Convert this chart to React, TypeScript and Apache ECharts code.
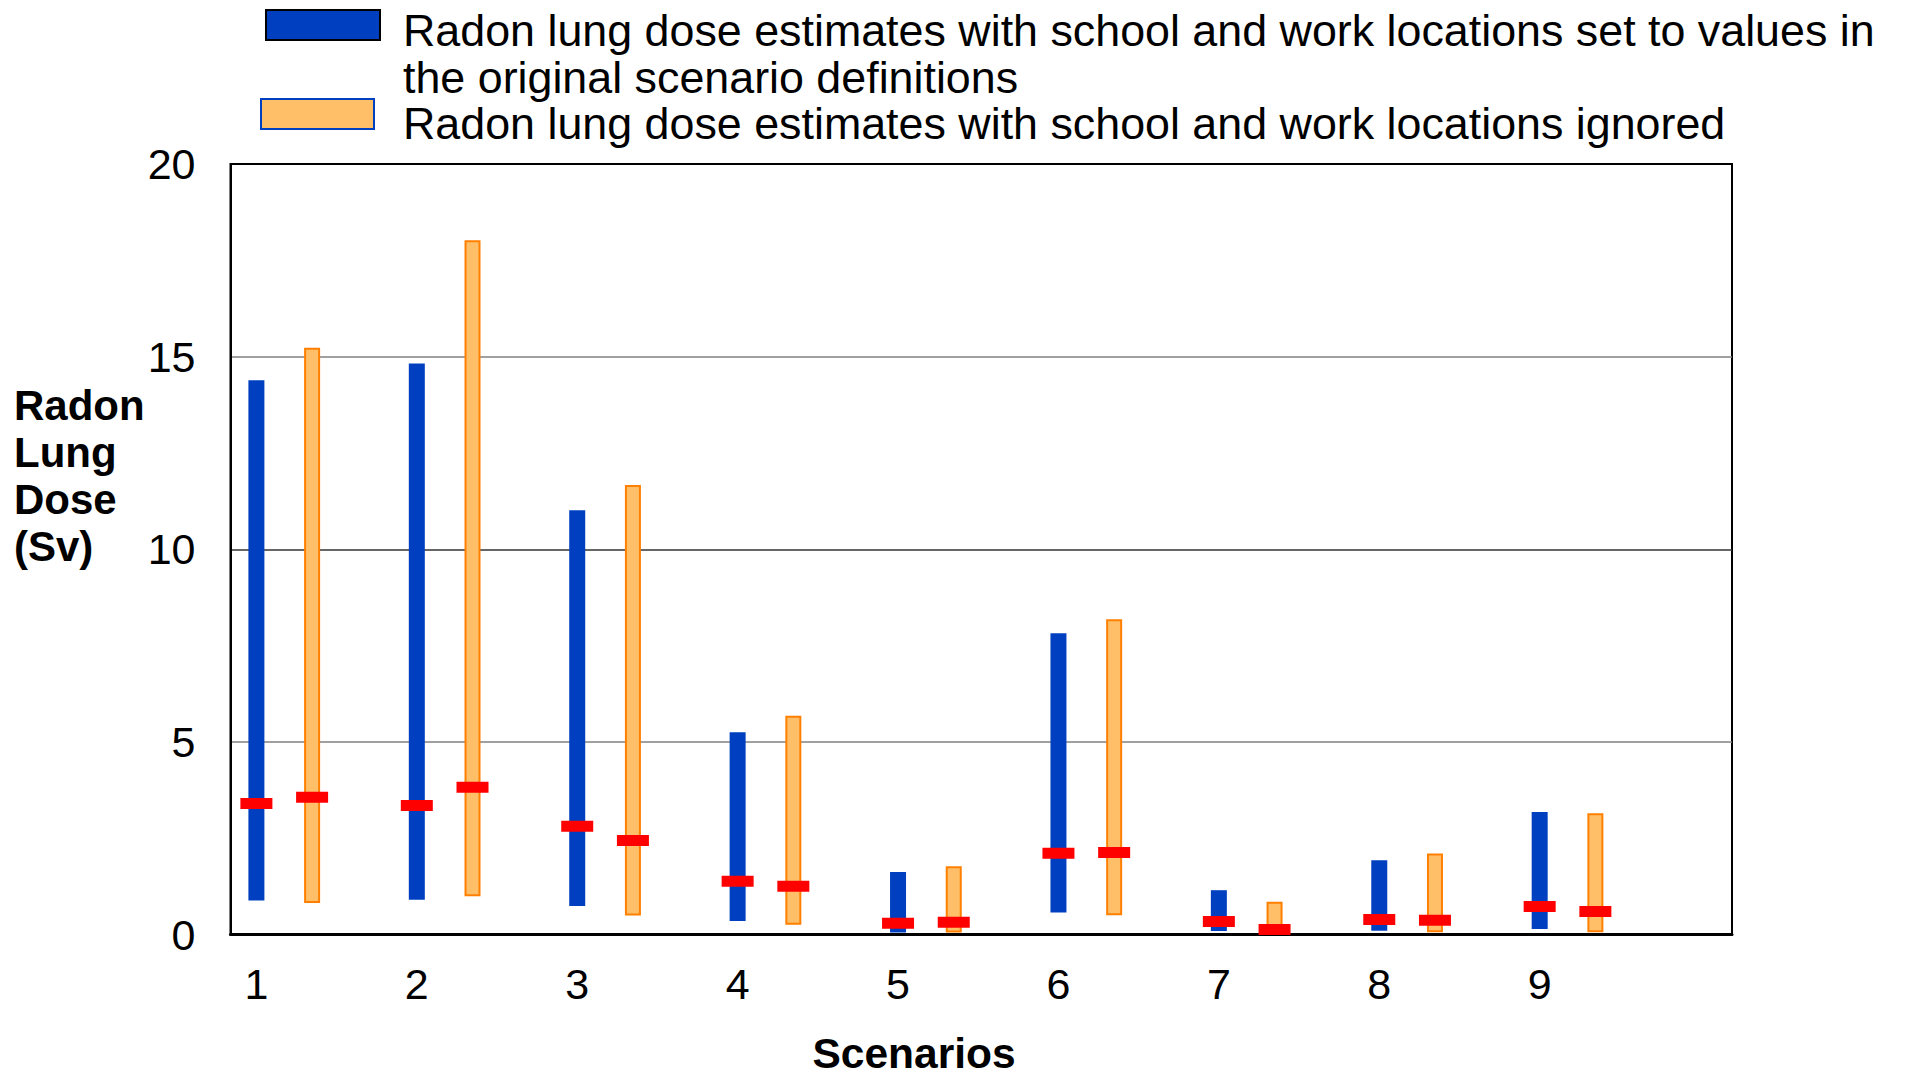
import React, { useEffect, useRef } from "react";
import * as echarts from "echarts";

const scenarios = [1, 2, 3, 4, 5, 6, 7, 8, 9];
const blueLow = [0.88, 0.9, 0.74, 0.35, 0.05, 0.57, 0.09, 0.1, 0.14];
const blueHigh = [14.39, 14.82, 11.01, 5.25, 1.62, 7.82, 1.15, 1.93, 3.18];
const blueMedian = [3.4, 3.35, 2.81, 1.38, 0.29, 2.11, 0.34, 0.39, 0.73];
const orangeLow = [0.82, 0.99, 0.49, 0.25, 0.05, 0.5, 0.02, 0.06, 0.06];
const orangeHigh = [15.23, 18.02, 11.67, 5.68, 1.77, 8.18, 0.85, 2.1, 3.15];
const orangeMedian = [3.56, 3.82, 2.44, 1.25, 0.32, 2.13, 0.13, 0.37, 0.6];
const yTicks = [0, 5, 10, 15, 20];
const legendLines1 = [
  "Radon lung dose estimates with school and work locations set to values in",
  "the original scenario definitions",
];
const legendLine2 = "Radon lung dose estimates with school and work locations ignored";
const yTitleLines = ["Radon", "Lung", "Dose", "(Sv)"];
const xTitle = "Scenarios";

const FONT = "'Liberation Sans', Arial, Helvetica, sans-serif";
const BLUE = "#0040c0";
const ORANGE_FILL = "#ffbf69";
const ORANGE_STROKE = "#ff8000";
const RED = "#ff0000";

function makeRender(offsetPx: number, kind: "blue" | "orange") {
  return (params: any, api: any) => {
    const x = api.value(0);
    const lo = api.value(1);
    const hi = api.value(2);
    const med = api.value(3);
    const pLo = api.coord([x, lo]);
    const pHi = api.coord([x, hi]);
    const pMed = api.coord([x, med]);
    const cx = pLo[0] + offsetPx;
    const bar =
      kind === "blue"
        ? {
            type: "rect",
            shape: { x: cx - 8, y: pHi[1], width: 16, height: pLo[1] - pHi[1] },
            style: { fill: BLUE },
          }
        : {
            type: "rect",
            shape: { x: cx - 7, y: pHi[1] + 1, width: 14, height: pLo[1] - pHi[1] - 2 },
            style: { fill: ORANGE_FILL, stroke: ORANGE_STROKE, lineWidth: 2 },
          };
    return {
      type: "group",
      children: [
        bar,
        {
          type: "rect",
          shape: { x: cx - 16, y: pMed[1] - 5.5, width: 32, height: 11 },
          style: { fill: RED },
        },
      ],
    };
  };
}

export default function App() {
  const ref = useRef<HTMLDivElement>(null);
  useEffect(() => {
    if (!ref.current) return;
    const chart = echarts.init(ref.current, undefined, { renderer: "svg" });
    const blueData = scenarios.map((s, i) => [s, blueLow[i], blueHigh[i], blueMedian[i]]);
    const orangeData = scenarios.map((s, i) => [s, orangeLow[i], orangeHigh[i], orangeMedian[i]]);
    const legendFont = `44.8px ${FONT}`;
    const graphics: any[] = [
      {
        type: "rect",
        shape: { x: 266, y: 10, width: 114, height: 30 },
        style: { fill: BLUE, stroke: "#000", lineWidth: 2 },
      },
      {
        type: "rect",
        shape: { x: 261, y: 99, width: 113, height: 30 },
        style: { fill: ORANGE_FILL, stroke: BLUE, lineWidth: 2 },
      },
      ...legendLines1.map((t, i) => ({
        type: "text",
        x: 403,
        y: 30 + i * 46.5,
        style: { text: t, font: legendFont, fill: "#000", verticalAlign: "middle", align: "left" },
      })),
      {
        type: "text",
        x: 403,
        y: 123,
        style: { text: legendLine2, font: legendFont, fill: "#000", verticalAlign: "middle", align: "left" },
      },
      ...yTitleLines.map((t, i) => ({
        type: "text",
        x: 14,
        y: 405 + i * 47,
        style: { text: t, font: `bold 42px ${FONT}`, fill: "#000", verticalAlign: "middle", align: "left" },
      })),
      {
        type: "text",
        x: 914,
        y: 1053,
        style: {
          text: xTitle,
          font: `bold 42.5px ${FONT}`,
          lineHeight: 36,
          fill: "#000",
          verticalAlign: "middle",
          align: "center",
        },
      },
    ];
    chart.setOption({
      animation: false,
      backgroundColor: "#fff",
      grid: {
        left: 230.5,
        top: 164,
        right: 182,
        bottom: 143.5,
        show: true,
        borderColor: "#000",
        borderWidth: 2,
        backgroundColor: "transparent",
      },
      xAxis: {
        type: "value",
        min: 0.8385,
        max: 10.199,
        axisLine: { show: true, onZero: false, lineStyle: { color: "#000", width: 3 } },
        axisTick: { show: false },
        splitLine: { show: false },
        axisLabel: {
          customValues: scenarios,
          fontFamily: FONT,
          fontSize: 43,
          lineHeight: 43,
          color: "#000",
          margin: 28,
        },
      },
      yAxis: {
        type: "value",
        min: 0,
        max: 20,
        interval: 5,
        axisLine: { show: true, lineStyle: { color: "#000", width: 2 } },
        axisTick: { show: false },
        axisLabel: {
          fontFamily: FONT,
          fontSize: 43,
          color: "#000",
          margin: 35,
          padding: [7, 0, 0, 0],
          formatter: (v: number) => (yTicks.includes(v) ? String(v) : ""),
        },
        splitLine: {
          show: true,
          lineStyle: { color: ["#000", "#808080", "#333333", "#808080", "#000"], width: 1.5 },
        },
      },
      series: [
        {
          type: "custom",
          name: legendLines1.join(" "),
          renderItem: makeRender(0, "blue"),
          encode: { x: 0, y: [1, 2, 3] },
          data: blueData,
          z: 3,
        },
        {
          type: "custom",
          name: legendLine2,
          renderItem: makeRender(55.7, "orange"),
          encode: { x: 0, y: [1, 2, 3] },
          data: orangeData,
          z: 4,
        },
      ],
      graphic: graphics,
    });
    return () => chart.dispose();
  }, []);
  return (
    <div
      ref={ref}
      style={{ position: "fixed", left: 0, top: 0, width: 1914, height: 1078, background: "#fff" }}
    />
  );
}
